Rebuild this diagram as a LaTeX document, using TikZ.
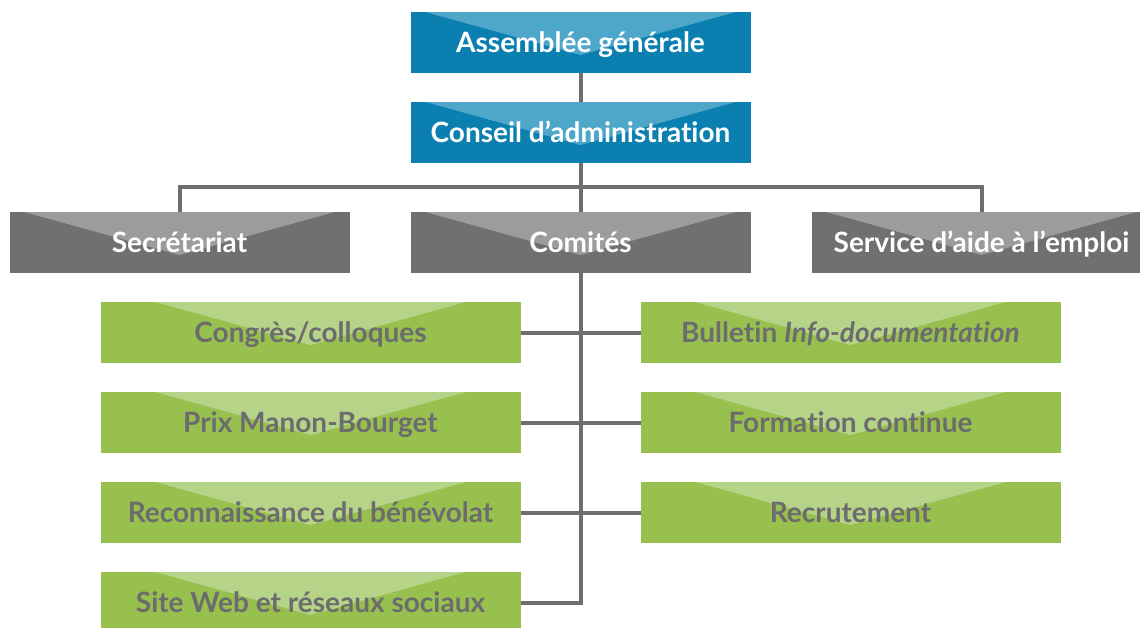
\documentclass[tikz,border=0pt]{standalone}
\usepackage{fontspec}
\setmainfont{Lato}[Ligatures=NoCommon]
\usepackage{xcolor}
\usepackage{tikz}
\usetikzlibrary{positioning}
\definecolor{orgblue}{RGB}{10, 127, 176}
\definecolor{orgbluelight}{RGB}{78, 166, 201}
\definecolor{orggray}{RGB}{112, 112, 114}
\definecolor{orggraylight}{RGB}{156, 156, 158}
\definecolor{orggreen}{RGB}{151, 192, 78}
\definecolor{orggreenlight}{RGB}{182, 212, 136}
\definecolor{orgtext}{RGB}{108, 108, 110}
\definecolor{orgline}{RGB}{110, 110, 112}

\begin{document}
\begin{tikzpicture}[
        x=1pt, y=-1pt,
        card/.style={rectangle, inner sep=0pt, outer sep=0pt, minimum height=61pt, align=center,
            text height=20pt, text depth=0pt,
            font=\fontsize{28}{32}\selectfont\bfseries,
            path picture={\fill[#1] ([xshift=-155pt]path picture bounding box.north)
                -- ([xshift=155pt]path picture bounding box.north)
                -- ([yshift=-43pt]path picture bounding box.north) -- cycle;}},
        topbox/.style={card=orgbluelight, fill=orgblue, text=white, minimum width=340pt},
        midbox/.style={card=orggraylight, fill=orggray, text=white, minimum width=340pt},
        subbox/.style={card=orggreenlight, fill=orggreen, text=orgtext, minimum width=420pt},
        link/.style={draw=orgline, line width=4pt}
    ]
        \clip (0,0) rectangle (1140,627);

        % Direction
        \node[topbox] (assemblee) at (580.5,42.5) {Assemblée générale};
        \node[topbox, below=29pt of assemblee] (conseil) {Conseil d’administration};

        % Services
        \node[midbox, below=49pt of conseil] (comites) {Comités};
        \node[midbox, left=61pt of comites] (secretariat) {Secrétariat};
        \node[midbox, right=61pt of comites] (service) {Service d’aide à l’emploi};

        % Comites
        \node[subbox, below=29pt of comites, xshift=-270pt] (congres) {Congrès/colloques};
        \node[subbox, below=29pt of congres] (prix) {Prix Manon-Bourget};
        \node[subbox, below=29pt of prix] (benevolat) {Reconnaissance du bénévolat};
        \node[subbox, below=29pt of benevolat] (siteweb) {Site Web et réseaux sociaux};
        \node[subbox, below=29pt of comites, xshift=270pt] (bulletin) {Bulletin \textit{Info-documentation}};
        \node[subbox, below=29pt of bulletin] (formation) {Formation continue};
        \node[subbox, below=29pt of formation] (recrutement) {Recrutement};

        % Lines
        \coordinate (bar) at ([yshift=-24pt]conseil.south);
        \draw[link] (assemblee) -- (conseil);
        \draw[link] (conseil) -- (comites);
        \draw[link] (secretariat.north) |- (bar) -| (service.north);
        \draw[link] (comites.south) |- (siteweb.east);
        \draw[link] (congres.east) -- (bulletin.west);
        \draw[link] (prix.east) -- (formation.west);
        \draw[link] (benevolat.east) -- (recrutement.west);
    \end{tikzpicture}
\end{document}
